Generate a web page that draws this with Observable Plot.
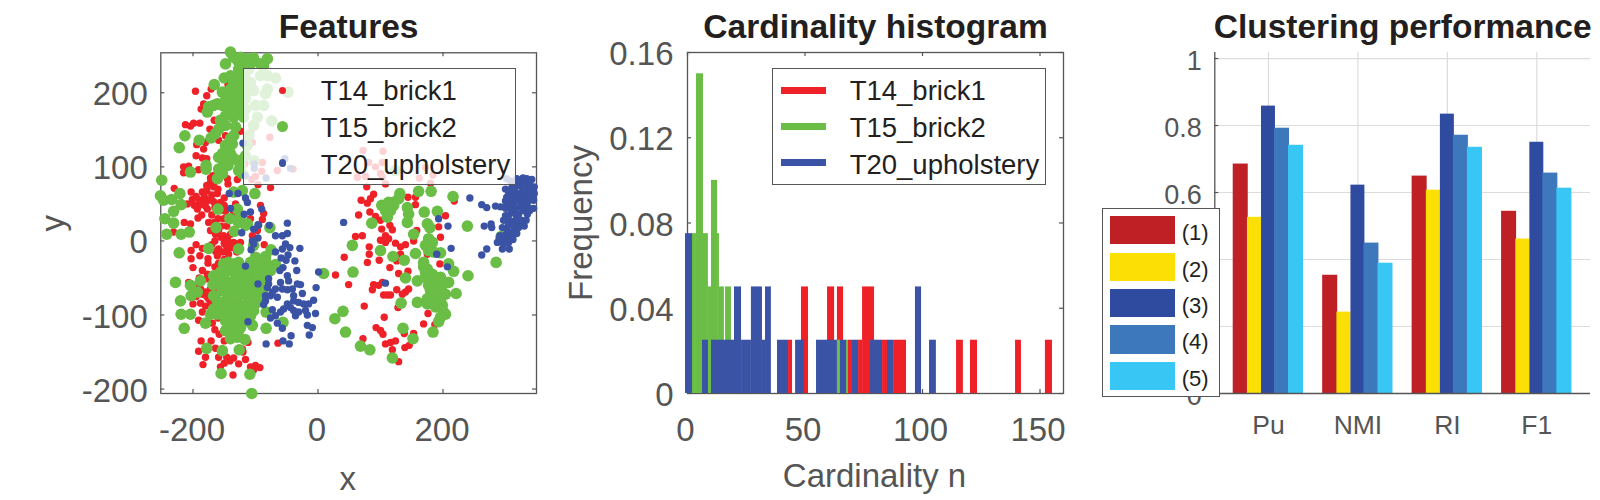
<!DOCTYPE html>
<html>
<head>
<meta charset="utf-8">
<script src="https://cdn.jsdelivr.net/npm/d3@7"></script>
<script src="https://cdn.jsdelivr.net/npm/@observablehq/plot@0.6"></script>
<style>
html,body{margin:0;padding:0;background:#fff;width:1600px;height:500px;overflow:hidden;font-family:"Liberation Sans",Arial,sans-serif}
#stage{position:relative;width:1600px;height:500px}
#stage svg{position:absolute;left:0;top:0}
.legend{position:absolute;box-sizing:border-box;border:1.3px solid #555}
.legend div{position:absolute;white-space:pre}
</style>
</head>
<body>
<div id="stage"></div>
<script>
// ---- Features: [x, y] pairs ----
const t14Points = [[-196,202],[-178,196],[-171,205],[-144,211],[-183,185],[-187,178],[-212,157],[-204,155],[-199,159],[-189,159],[-173,151],[-166,163],[-148,142],[-124,148],[-159,136],[-194,130],[-183,124],[-180,133],[-195,115],[-185,112],[-178,111],[-215,100],[-207,101],[-215,92],[-191,96],[-145,84],[-144,77],[-129,83],[-230,71],[-203,66],[-172,79],[-177,73],[-185,66],[-167,73],[-161,64],[-183,52],[-188,50],[-193,43],[-177,43],[-201,56],[-209,50],[-192,31],[-167,53],[-156,52],[-150,48],[-156,41],[-151,30],[-132,50],[-135,39],[-92,48],[-87,37],[-89,29],[-214,25],[-204,23],[-175,25],[-108,30],[-76,72],[-124,97],[-77,140],[-105,133],[-108,146],[-89,106],[-117,104],[-90,94],[-65,95],[-40,97],[-106,83],[-100,87],[-96,76],[-178,68],[-170,62],[-172,85],[-165,80],[-190,48],[-180,47],[-150,58],[-148,40],
[-178,75],[-168,88],[-160,70],[-190,55],[-165,45],[-155,5],[-148,-5],[-165,0],[-135,-2],[-152,-15],[-130,-15],[-168,-62],[-160,-70],[-178,-75],[-185,-72],[-195,-62],[-165,-85],[-180,-88],
[-195,60],[-182,60],[-175,55],[-198,48],[-170,35],[-160,30],[-146,20],[-166,25],[-186,35],[-155,20],[-140,-3],[-150,-3],[-170,-5],[-185,-10],[-195,-5],[-150,-25],[-165,-35],[-185,-40],[-190,-50],[-195,-75],[-170,-95],[-165,-120],[-150,-135],[-200,-85],[-120,-150],[-150,-165],
[-231,12],[-172,14],[-164,9],[-159,14],[-151,7],[-145,3],[-140,9],[-130,-4],[-124,-2],[-137,-9],[-145,-11],[-159,-11],[-164,-14],[-161,-20],[-203,-13],[-203,-24],[-189,-20],[-176,-24],[-176,-30],[-159,-30],[-143,-18],[-200,-36],[-86,-5],[-93,-30],[-177,-45],[-178,-51],[-207,-56],[-201,-60],[-188,-65],[-180,-69],[-172,-65],[-156,-58],[-175,-78],[-172,-83],[-188,-84],[-185,-96],[-191,-107],[-183,-110],[-169,-111],[-160,-104],[-158,-126],[-187,-135],[-171,-135],[-191,-149],[-164,-145],[-180,-157],[-159,-157],[-146,-157],[-141,-162],[-135,-158],[-116,-160],[-127,-166],[-184,-167],[-156,-170],[-136,-181],[-108,-170],[-100,-168],[-93,-171],[-103,-174],[-64,-138],[-112,-137],[-97,14],[-105,7],[-121,-146],
[78,73],[89,63],[84,57],[79,51],[69,55],[65,35],[83,39],[92,33],[100,28],[102,16],[115,21],[119,15],[144,59],[156,59],[156,49],[218,54],[204,34],[193,19],[196,5],[158,14],[153,0],[60,6],[71,7],[108,7],[100,1],[108,-2],[113,3],[124,-3],[132,-8],[140,-5],[82,-8],[82,-18],[42,-22],[79,-29],[98,-26],[132,-18],[126,-27],[175,-18],[195,-31],[115,-36],[144,-41],[129,-44],[28,-46],[49,-59],[103,-56],[89,-59],[97,-60],[87,-66],[111,-73],[105,-73],[116,-73],[126,-66],[145,-65],[140,-69],[135,-72],[74,-88],[128,-90],[176,-98],[106,-103],[169,-112],[187,-113],[93,-117],[100,-121],[104,-126],[138,-125],[153,-125],[72,-132],[108,-139],[116,-137],[124,-135],[119,-147],[139,-144],[146,-141],[129,-163],[72,122],[104,121],[81,106],[92,100],[103,106],[63,86],[76,87],[100,91],[103,86],[108,77],[172,99],[162,85],[184,89],[180,78]];
const t15Points = [[-140,255],[-135,248],[-103,247],[-81,246],[-148,239],[-129,244],[-119,242],[-108,239],[-127,232],[-116,230],[-87,237],[-92,239],[-150,220],[-140,223],[-166,211],[-128,219],[-124,210],[-132,205],[-153,201],[-124,196],[-148,190],[-137,188],[-127,185],[-161,185],[-175,181],[-177,174],[-143,178],[-132,176],[-148,169],[-156,163],[-135,167],[-124,172],[-132,154],[-159,151],[-164,145],[-171,139],[-135,142],[-213,142],[-190,136],[-222,126],[-137,131],[-148,129],[-153,118],[-140,118],[-151,113],[-179,102],[-179,97],[-204,93],[-144,102],[-153,91],[-161,84],[-124,102],[-127,95],[-250,82],[-252,61],[-247,55],[-234,56],[-221,64],[-219,49],[-231,40],[-245,30],[-231,24],[-160,43],[-141,30],[-129,43],[-124,34],[-127,25],[-113,23],[-101,64],[-135,66],[-121,68],[-68,220],[-81,223],[-92,223],[-81,205],[-84,199],[-87,183],[-100,183],[-103,203],[-108,214],[-103,156],[-97,167],[-74,162],[-48,201],[-111,142],[-113,129],[-116,115],[-102,108],
[-124,248],[-113,246],[-121,237],[-111,232],[-137,219],[-135,212],[-116,219],[-140,205],[-116,205],[-143,196],[-135,196],[-116,192],[-153,183],[-167,183],[-116,178],[-140,172],[-119,167],[-148,156],[-140,138],[-143,124],[-159,113],[-151,106],[-137,113],[-159,97],[-129,109],[-121,91],
[-242,9],[-219,9],[-206,12],[-163,18],[-134,13],[-116,21],[-77,18],[-222,-16],[-175,-10],[-127,-11],[-103,-6],[-75,-12],[-84,-21],[-100,-22],[-108,-36],[-68,-32],[-76,-40],[-143,-29],[-127,-29],[-228,-56],[-188,-54],[-204,-60],[-168,-59],[-167,-47],[-193,-69],[-203,-74],[-220,-81],[-219,-99],[-204,-99],[-214,-118],[-180,-111],[-172,-99],[-83,-118],[-83,-96],[-56,-110],[-105,-114],[9,-44],[-117,-133],[-178,-145],[-153,-148],[-126,-147],[-155,-179],[-109,-180],[-106,-206],
[-140,-40],[-124,-40],[-108,-49],[-92,-45],[-151,-51],[-135,-54],[-119,-56],[-103,-60],[-89,-56],[-153,-67],[-137,-67],[-121,-69],[-105,-74],[-89,-69],[-161,-81],[-145,-81],[-129,-83],[-113,-85],[-97,-83],[-167,-92],[-151,-94],[-135,-96],[-119,-96],[-103,-94],[-148,-108],[-132,-110],[-116,-108],[-148,-121],[-137,-128],[-127,-121],[-140,-132],[-129,-130],[-84,-47],[-156,-42],[-151,-31],[-159,-58],[-167,-74],[-156,-87],[-92,-78],[-108,-101],[-161,-99],
[-132,-31],[-116,-47],[-132,-47],[-148,-60],[-129,-60],[-113,-65],[-97,-63],[-97,-51],[-84,-38],[-145,-74],[-129,-74],[-113,-76],[-97,-74],[-153,-87],[-137,-90],[-121,-90],[-105,-87],[-143,-103],[-127,-103],[-111,-101],[-140,-117],[-124,-117],[-132,-126],[-159,-83],[-97,-40],[-108,-29],[-84,-27],[-95,-31],
[131,64],[161,67],[181,67],[216,60],[102,48],[113,52],[121,52],[129,57],[108,41],[116,41],[121,48],[111,32],[143,45],[145,36],[143,25],[170,39],[191,40],[175,23],[179,18],[86,24],[239,20],[55,-6],[100,-13],[120,-21],[138,-26],[153,9],[172,-6],[183,-2],[177,-13],[156,-17],[196,-16],[169,-29],[175,-38],[209,-31],[217,-41],[240,-47],[56,-42],[140,-50],[159,-54],[172,-49],[183,-45],[196,-49],[185,-58],[201,-58],[209,-56],[180,-67],[193,-67],[204,-72],[221,-71],[133,-84],[159,-83],[175,-85],[188,-80],[199,-87],[188,-89],[204,-99],[193,-109],[40,-95],[27,-105],[44,-123],[136,-118],[184,-123],[152,-132],[68,-142],[83,-147],[119,-158],[285,-29],[124,95],[293,6],
[169,-35],[172,-42],[180,-51],[191,-54],[177,-60],[185,-71],[175,-78],[196,-78],[183,-80],[201,-96],[196,-103],[113,45],[180,-9],[185,-15],[177,3]];
const t20Points = [[-120,132],[-142,64],[-128,64],[-116,58],[-113,52],[-140,44],[-108,39],[-90,43],[-118,36],[-96,22],[-78,21],[-49,24],[-53,111],[-44,98],[-102,104],[-102,98],[-116,88],[-83,85],
[-122,11],[-103,16],[-95,21],[-96,4],[-105,0],[-103,-4],[-107,-12],[-68,7],[-57,7],[-49,10],[-52,-4],[-57,-11],[-45,-9],[-29,-10],[-68,-15],[-48,-19],[-59,-23],[-51,-26],[-37,-27],[-116,-34],[-56,-36],[-61,-40],[-34,-40],[1,-42],[-49,-47],[-47,-54],[-96,-58],[-79,-51],[-79,-58],[-81,-63],[-60,-56],[-33,-58],[-28,-59],[-25,-71],[-3,-63],[-68,-65],[-57,-65],[-49,-66],[-41,-65],[-73,-69],[-84,-74],[-76,-74],[-65,-76],[-84,-81],[-87,-86],[-39,-74],[-39,-81],[-31,-83],[-23,-85],[-15,-85],[-7,-80],[-49,-85],[-55,-92],[-44,-90],[-39,-94],[-31,-96],[-20,-94],[-4,-98],[-73,-93],[-60,-96],[-68,-101],[-76,-104],[-17,-100],[-36,-101],[-112,-109],[-65,-111],[-17,-114],[-9,-117],[-57,-118],[-43,-128],[-14,-127],[-56,-135],[-83,-139],[-46,-139],
[41,25],[108,-57],[193,30],[208,20],[213,-10],[190,-18],[207,-35],[243,58],[262,49],[270,45],[284,47],[292,46],[266,20],[277,23],[278,18],[270,-11],[262,-19],[295,-11],[306,-11],[287,-2],[291,7],[302,0],[310,5],[295,18],[302,16],[313,14],[321,18],[308,27],[318,30],[300,34],[310,39],[321,36],[329,41],[302,50],[313,50],[324,52],[334,50],[302,59],[313,61],[324,61],[334,61],[300,70],[310,72],[321,75],[332,77],[337,70],[324,81],[334,84],[340,57],[316,23],[327,23],[308,81],[302,84],[339,41],[337,79],
[295,5],[300,8],[305,10],[318,10],[305,22],[312,22],[330,20],[297,28],[325,28],[333,28],[305,35],[316,36],[335,36],[300,44],[308,44],[318,44],[327,46],[337,45],[345,44],[300,54],[309,55],[318,56],[328,56],[338,55],[345,55],[305,66],[316,66],[327,66],[338,66],[346,64],[315,75],[326,73],[340,74],[346,73],[318,84],[328,85],[342,83],[297,-4],[305,-2],[290,3],[312,2]];

// ---- Cardinality histogram ----
const t14Lo   = [43,48.5,59.6,63.8,68.5,72.8,74.5,83,87.7,114.5,120.4,139.6,152.3];
const t14Hi   = [44.7,51.5,62.6,66.4,70.2,74.5,79.6,85.1,93.2,117.4,123.4,142.1,155.3];
const t14Freq = [.025,.05,.05,.05,.025,.025,.05,.025,.025,.025,.025,.025,.025];
const t15Lo   = [2.1,3.8,6.8,8.9,10.2,12.8,13.6,16.2,63.8,67.7];
const t15Hi   = [3.8,6.8,8.9,10.2,12.8,13.6,15.7,18.7,65.1,68.5];
const t15Freq = [.075,.15,.075,.05,.1,.075,.05,.05,.025,.025];
const t20Lo   = [-0.85,6.4,10.2,20,23,27.2,31.9,33.2,38.3,46,54.9,65.1,70.2,77.9,85.1,97,103];
const t20Hi   = [2.13,8.9,20,23,27.2,31.9,33.2,35.7,43,49.8,63.8,67.7,72.8,83,87.7,99.6,105.9];
const t20Freq = [.075,.025,.025,.05,.025,.05,.025,.05,.025,.025,.025,.025,.025,.025,.025,.05,.025];

// ---- Clustering performance ----
const metrics = ["Pu","NMI","RI","F1"];
const method1 = [.685,.353,.649,.544];
const method2 = [.526,.243,.607,.461];
const method3 = [.858,.622,.834,.750];
const method4 = [.792,.449,.771,.658];
const method5 = [.741,.389,.735,.613];
const methodNames = ["(1)","(2)","(3)","(4)","(5)"];

const seriesNames = ["T14_brick1","T15_brick2","T20_upholstery"];
const scatterXTicks = [-200,0,200];
const scatterYTicks = [-200,-100,0,100,200];
const histXTicks = [0,50,100,150];
const histYTicks = [0,.04,.08,.12,.16];
const perfYTicks = [0,.2,.4,.6,.8,1];
const perfYLabelled = [0,.6,.8,1]; // the legend covers 0.2 and 0.4 in the reference

const RED="#ee2028", GREEN="#6abd45", BLUE="#3a53a4", INK="#555555", TITLE="#231f20";
const perfColors = ["#be2026","#fcdf05","#2f4b9f","#3d78bc","#38c6f4"];
const W=1600, H=500, BASE=393;
const stage = document.getElementById("stage");
const svgStyle = {background:"transparent",fontFamily:"'Liberation Sans',Arial,sans-serif"};

function boxedTicks(xt, yt, fh, fw){
  const t=4;
  return [
    Plot.frame({stroke:INK,strokeWidth:1.3}),
    Plot.tickX(xt,{x:d=>d,insetTop:fh-t,stroke:INK,strokeWidth:1.2}),
    Plot.tickX(xt,{x:d=>d,insetBottom:fh-t,stroke:INK,strokeWidth:1.2}),
    Plot.tickY(yt,{y:d=>d,insetRight:fw-t,stroke:INK,strokeWidth:1.2}),
    Plot.tickY(yt,{y:d=>d,insetLeft:fw-t,stroke:INK,strokeWidth:1.2})
  ];
}
function labels(title, xl, yl, xDy, yDx, top){
  const out=[
    Plot.text([title],{text:d=>d,frameAnchor:"top",lineAnchor:"middle",dy:37-top-10.7,fontSize:33.5,fontWeight:"bold",fill:TITLE})
  ];
  if(xl) out.push(Plot.text([xl],{text:d=>d,frameAnchor:"bottom",lineAnchor:"middle",dx:-1,dy:xDy,fontSize:33,fill:INK}));
  if(yl) out.push(Plot.text([yl],{text:d=>d,frameAnchor:"left",textAnchor:"middle",lineAnchor:"middle",rotate:-90,dx:yDx,fontSize:33,fill:INK}));
  return out;
}

// Panel 1
const p1 = {l:160.3,r:536,t:52.3};
stage.appendChild(Plot.plot({
  width:W,height:H,style:svgStyle,
  marginLeft:p1.l,marginRight:W-p1.r,marginTop:p1.t,marginBottom:H-BASE,
  x:{domain:[-251.5,349.6]},y:{domain:[-206,254]},
  marks:[
    ...boxedTicks(scatterXTicks,scatterYTicks,BASE-p1.t,p1.r-p1.l),
    Plot.axisX({ticks:scatterXTicks,tickSize:0,tickPadding:23.6,fontSize:33,fill:INK,dx:-1,tickFormat:d=>String(d),label:null}),
    Plot.axisY({ticks:scatterYTicks,tickSize:0,tickPadding:13,fontSize:33,fill:INK,dy:2,tickFormat:d=>String(d),label:null}),
    Plot.dot(t14Points,{x:d=>d[0],y:d=>d[1],r:3.7,fill:RED}),
    Plot.dot(t15Points,{x:d=>d[0],y:d=>d[1],r:5.8,fill:GREEN}),
    Plot.dot(t20Points,{x:d=>d[0],y:d=>d[1],r:3.7,fill:BLUE}),
    ...labels("Features","x","y",86.4,-106.9,p1.t)
  ]
}));

// Panel 2
const p2 = {l:687,r:1063,t:52};
const tbl=(lo,hi,f)=>lo.map((v,i)=>({lo:v,hi:hi[i],f:f[i]}));
const histBars=(lo,hi,f,c)=>Plot.rectY(tbl(lo,hi,f),{x1:"lo",x2:"hi",y:"f",fill:c});
stage.appendChild(Plot.plot({
  width:W,height:H,style:svgStyle,
  marginLeft:p2.l,marginRight:W-p2.r,marginTop:p2.t,marginBottom:H-BASE,
  x:{domain:[0,160]},y:{domain:[0,.16]},
  marks:[
    ...boxedTicks(histXTicks,histYTicks,BASE-p2.t,p2.r-p2.l),
    Plot.axisX({ticks:histXTicks,tickSize:0,tickPadding:23.6,fontSize:33,fill:INK,dx:-2,tickFormat:d=>String(d),label:null}),
    Plot.axisY({ticks:histYTicks,tickSize:0,tickPadding:14,fontSize:33,fill:INK,dy:2,tickFormat:d=>String(d),label:null}),
    histBars(t14Lo,t14Hi,t14Freq,RED),
    histBars(t15Lo,t15Hi,t15Freq,GREEN),
    histBars(t20Lo,t20Hi,t20Freq,BLUE),
    ...labels("Cardinality histogram","Cardinality n","Frequency",83,-105.6,p2.t)
  ]
}));

// Panel 3
const p3 = {l:1214.3,r:1590,t:52};
const barOffsets=[[-.394,-.226],[-.235,-.077],[-.078,.078],[.067,.235],[.224,.392]];
const methods=[method1,method2,method3,method4,method5];
const perfRows=[];
methods.forEach((vals,m)=>vals.forEach((v,g)=>perfRows.push({m,g,v,x1:g+1+barOffsets[m][0],x2:g+1+barOffsets[m][1]})));
stage.appendChild(Plot.plot({
  width:W,height:H,style:svgStyle,
  marginLeft:p3.l,marginRight:W-p3.r,marginTop:p3.t,marginBottom:H-BASE,
  x:{domain:[.4,4.6]},y:{domain:[0,1.018]},
  marks:[
    Plot.gridX([1,2,3,4],{x:d=>d,stroke:"#dcdcdc",strokeOpacity:1,strokeWidth:1.2}),
    Plot.gridY(perfYTicks.slice(1),{y:d=>d,stroke:"#dcdcdc",strokeOpacity:1,strokeWidth:1.2}),
    Plot.axisX({ticks:[1,2,3,4],tickSize:0,tickPadding:22,fontSize:26.5,fill:INK,tickFormat:(d)=>metrics[d-1],label:null}),
    Plot.axisY({ticks:perfYLabelled,tickSize:0,tickPadding:13,fontSize:27,fill:INK,dy:3,tickFormat:d=>String(d),label:null}),
    Plot.tickY(perfYTicks,{y:d=>d,insetRight:p3.r-p3.l-4,stroke:INK,strokeWidth:1.2}),
    Plot.rectY(perfRows,{x1:"x1",x2:"x2",y:"v",fill:d=>perfColors[d.m]}),
    Plot.ruleX([.4],{stroke:INK,strokeWidth:1.3}),
    Plot.ruleY([0],{stroke:INK,strokeWidth:1.3}),
    ...labels("Clustering performance",null,null,0,0,p3.t)
  ]
}));

// Legends (drawn over the axes, as in the picture)
function box(l,t,r,b,bg){
  const d=document.createElement("div");
  d.className="legend";
  d.style.cssText=`left:${l}px;top:${t}px;width:${r-l}px;height:${b-t}px;background:${bg}`;
  stage.appendChild(d);
  return [d,l,t];
}
function put(parent,l,t,css,text){
  const [p,pl,pt]=parent;
  const d=document.createElement("div");
  d.style.cssText=`left:${l-pl-1.3}px;top:${t-pt-1.3}px;${css}`;
  if(text) d.textContent=text;
  p.appendChild(d);
}
const legendBaselines=[101.7,138.3,175], legendMarkY=[90.5,127,163.3], legendColors=[RED,GREEN,BLUE];
const legendText="font-size:27.5px;line-height:30px;color:#231f20;";
const b1=box(243.3,68.3,516.3,185.3,"rgba(255,255,255,.8)");
seriesNames.forEach((s,i)=>{
  const r=i==1?5.6:3.6;
  put(b1,283-r,legendMarkY[i]-r,`width:${2*r}px;height:${2*r}px;border-radius:50%;background:${legendColors[i]}`);
  put(b1,321,legendBaselines[i]-25,legendText,s);
});
const b2=box(772.4,68.3,1046,185.3,"#fff");
seriesNames.forEach((s,i)=>{
  put(b2,781,legendMarkY[i]-3.5,`width:45px;height:7px;background:${legendColors[i]}`);
  put(b2,850,legendBaselines[i]-25,legendText,s);
});
const b3=box(1102.3,208.3,1220.3,397.3,"#fff");
const swTop=[216,253,289,325,362], swBot=[244,281,317,354,390];
methodNames.forEach((s,i)=>{
  put(b3,1110,swTop[i],`width:65px;height:${swBot[i]-swTop[i]}px;background:${perfColors[i]}`);
  put(b3,1182,(swTop[i]+swBot[i])/2-12,"font-size:22px;line-height:30px;color:#231f20;",s);
});
</script>
</body>
</html>
